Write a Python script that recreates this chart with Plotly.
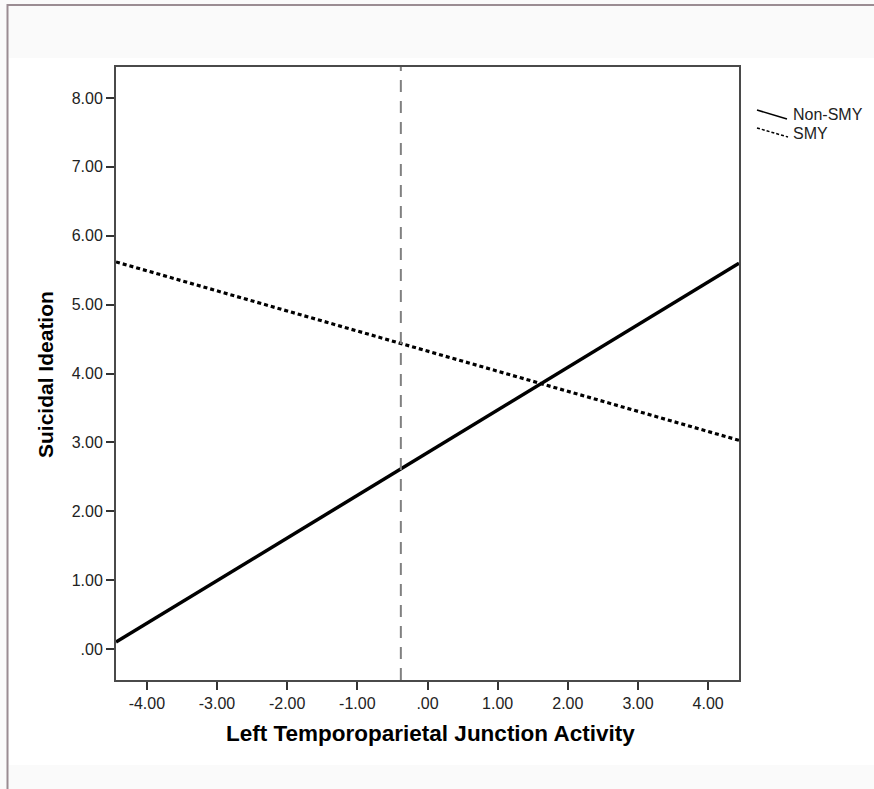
import plotly.graph_objects as go

# ---- data ----
x_ends = [-4.44, 4.44]
non_smy = [0.10, 5.60]
smy = [5.62, 3.03]
mean_x = -0.38
x_range = [-4.44, 4.44]
y_range = [-0.45, 8.45]
x_tickvals = [-4, -3, -2, -1, 0, 1, 2, 3, 4]
x_ticktext = ["-4.00", "-3.00", "-2.00", "-1.00", ".00", "1.00", "2.00", "3.00", "4.00"]
y_tickvals = [0, 1, 2, 3, 4, 5, 6, 7, 8]
y_ticktext = [".00", "1.00", "2.00", "3.00", "4.00", "5.00", "6.00", "7.00", "8.00"]
series_names = ["Non-SMY", "SMY"]
x_title = "Left Temporoparietal Junction Activity"
y_title = "Suicidal Ideation"

W, H = 874, 789
L, T, R, B = 116, 67, 739, 680
pw, ph = R - L, B - T


def px(x):
    return (x - L) / pw


def py(y):
    return 1 - (y - T) / ph


FONT = "Arial, 'Liberation Sans', sans-serif"

fig = go.Figure()
fig.add_trace(go.Scatter(x=x_ends, y=non_smy, mode="lines", name=series_names[0],
                         line=dict(color="black", width=3.5), showlegend=False))
fig.add_trace(go.Scatter(x=x_ends, y=smy, mode="lines", name=series_names[1],
                         line=dict(color="black", width=3.2, dash="4px,3px"), showlegend=False))

shapes = []
# white panel + borders
shapes.append(dict(type="rect", xref="paper", yref="paper", x0=px(9), x1=px(880), y0=py(58), y1=py(765),
                   fillcolor="white", line=dict(width=0), layer="below"))
shapes.append(dict(type="line", xref="paper", yref="paper", x0=px(7.5), x1=px(880), y0=py(5), y1=py(5),
                   line=dict(color="#9a8c92", width=2)))
shapes.append(dict(type="line", xref="paper", yref="paper", x0=px(7.5), x1=px(7.5), y0=py(4), y1=py(795),
                   line=dict(color="#9a8c92", width=2)))
# mean reference line
shapes.append(dict(type="line", xref="x", yref="paper", x0=mean_x, x1=mean_x, y0=0, y1=1,
                   line=dict(color="#808080", width=2, dash="12px,9px")))
# legend samples
shapes.append(dict(type="line", xref="paper", yref="paper", x0=px(757), x1=px(787), y0=py(110), y1=py(119),
                   line=dict(color="black", width=1.5)))
shapes.append(dict(type="line", xref="paper", yref="paper", x0=px(757), x1=px(788), y0=py(128), y1=py(137),
                   line=dict(color="black", width=1.5, dash="3px,2px")))

annotations = [
    dict(text=f"<b>{x_title}</b>", xref="paper", yref="paper", x=px(430.5), y=py(733),
         xanchor="center", yanchor="middle", showarrow=False, font=dict(size=22.5, color="black", family=FONT)),
    dict(text=f"<b>{y_title}</b>", xref="paper", yref="paper", x=px(45), y=py(375), textangle=-90,
         xanchor="center", yanchor="middle", showarrow=False, font=dict(size=21, color="black", family=FONT)),
    dict(text=series_names[0], xref="paper", yref="paper", x=px(791), y=py(115),
         xanchor="left", yanchor="middle", showarrow=False, font=dict(size=16, color="#222", family=FONT)),
    dict(text=series_names[1], xref="paper", yref="paper", x=px(791), y=py(133),
         xanchor="left", yanchor="middle", showarrow=False, font=dict(size=16, color="#222", family=FONT)),
]

axis_common = dict(showgrid=False, zeroline=False, showline=True, linecolor="#4a4a4a", linewidth=2,
                   mirror=True, ticks="outside", ticklen=8, tickwidth=2, tickcolor="#333",
                   tickfont=dict(size=16, color="#222", family=FONT))

fig.update_layout(
    width=W, height=H,
    margin=dict(l=L, r=W - R, t=T, b=H - B, pad=0),
    paper_bgcolor="#fafafa", plot_bgcolor="white",
    xaxis=dict(range=x_range, tickvals=x_tickvals, ticktext=x_ticktext, **axis_common),
    yaxis=dict(range=y_range, tickvals=y_tickvals, ticktext=y_ticktext, **axis_common),
    shapes=shapes, annotations=annotations, showlegend=False,
)

fig.write_html("out.html")
